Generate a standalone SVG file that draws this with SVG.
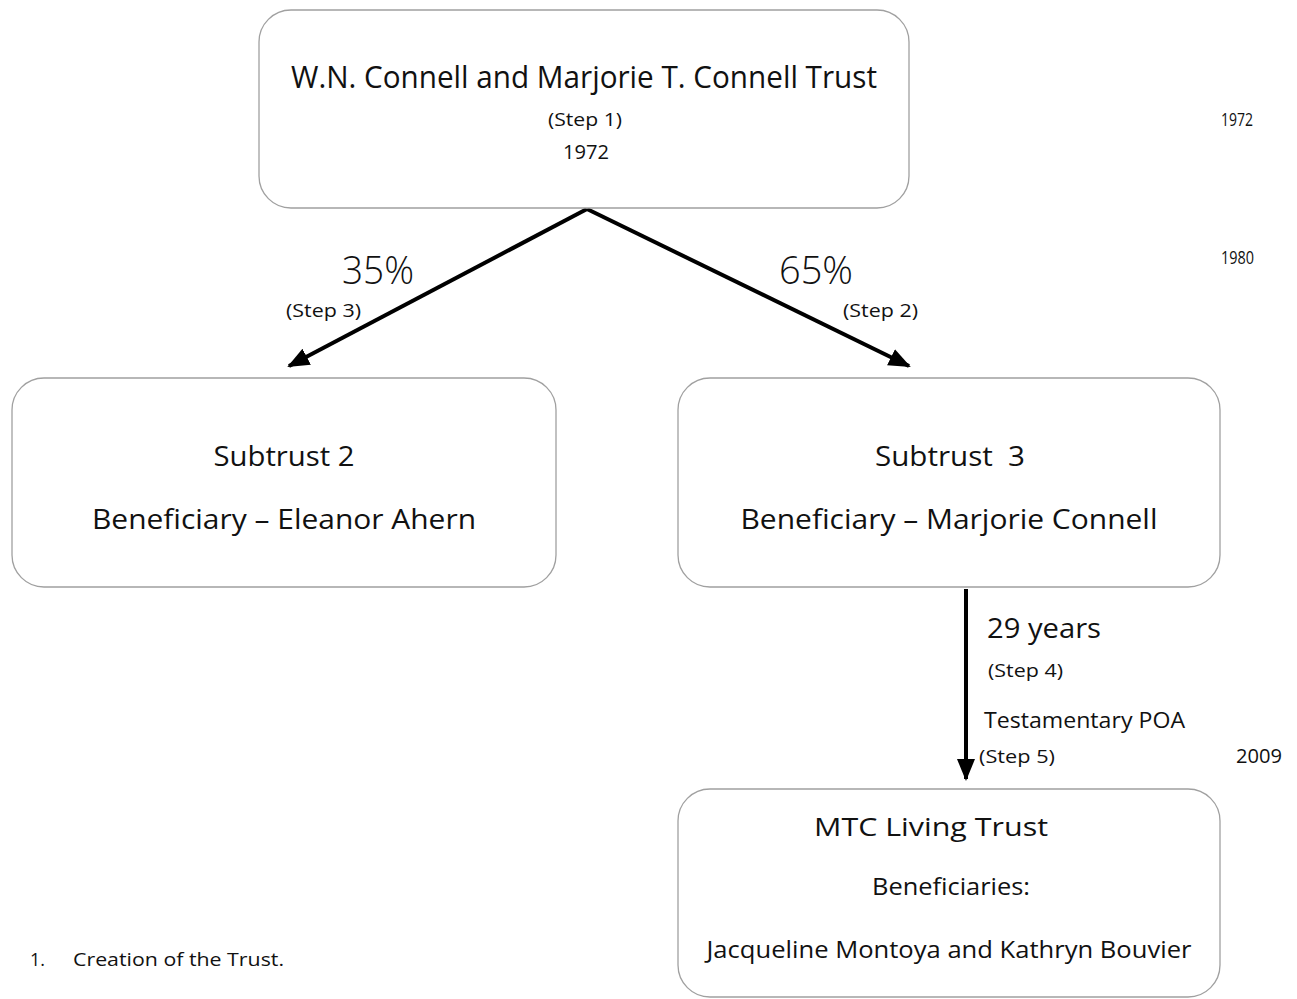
<svg xmlns="http://www.w3.org/2000/svg" width="1297" height="999" viewBox="0 0 1297 999">
<style>
.box{fill:#fff;stroke:#a0a0a0;stroke-width:1.3}
text{font-family:"Open Sans","Liberation Sans",sans-serif;fill:#111}
.c{text-anchor:middle}
.con{stroke:#000;stroke-width:4;fill:none}
</style>
<defs>
<marker id="ah" markerUnits="userSpaceOnUse" markerWidth="22" markerHeight="18" refX="20" refY="9" orient="auto">
<path d="M0,0 L22,9 L0,18 Z" fill="#000"/>
</marker>
</defs>
<rect width="1297" height="999" fill="#fff"/>
<g id="connectors">
<line class="con" x1="587" y1="209" x2="289" y2="366" marker-end="url(#ah)"/>
<line class="con" x1="587" y1="209" x2="909" y2="366" marker-end="url(#ah)"/>
<line class="con" x1="966" y1="589" x2="966" y2="779" marker-end="url(#ah)"/>
</g>
<g id="node-trust">
<rect class="box" x="259" y="10" width="650" height="198" rx="32"/>
<text class="c" x="584" y="88" font-size="31" textLength="586" lengthAdjust="spacingAndGlyphs">W.N. Connell and Marjorie T. Connell Trust</text>
<text class="c" x="585" y="126" font-size="18" textLength="74" lengthAdjust="spacingAndGlyphs">(Step 1)</text>
<text class="c" x="586" y="159" font-size="20" textLength="46" lengthAdjust="spacingAndGlyphs">1972</text>
</g>
<g id="node-subtrust2">
<rect class="box" x="12" y="378" width="544" height="209" rx="32"/>
<text class="c" x="284" y="466" font-size="28" textLength="141" lengthAdjust="spacingAndGlyphs">Subtrust 2</text>
<text class="c" x="284" y="529" font-size="28" textLength="384" lengthAdjust="spacingAndGlyphs">Beneficiary – Eleanor Ahern</text>
</g>
<g id="node-subtrust3">
<rect class="box" x="678" y="378" width="542" height="209" rx="32"/>
<text class="c" x="950" y="466" font-size="28" textLength="150" lengthAdjust="spacingAndGlyphs" xml:space="preserve">Subtrust  3</text>
<text class="c" x="949" y="529" font-size="28" textLength="417" lengthAdjust="spacingAndGlyphs">Beneficiary – Marjorie Connell</text>
</g>
<g id="node-mtc">
<rect class="box" x="678" y="789" width="542" height="208" rx="32"/>
<text class="c" x="931" y="836" font-size="26" textLength="234" lengthAdjust="spacingAndGlyphs">MTC Living Trust</text>
<text class="c" x="951" y="895" font-size="24" textLength="158" lengthAdjust="spacingAndGlyphs">Beneficiaries:</text>
<text class="c" x="949" y="958" font-size="24" textLength="485" lengthAdjust="spacingAndGlyphs">Jacqueline Montoya and Kathryn Bouvier</text>
</g>
<g id="labels">
<text x="342" y="284" font-size="38" font-weight="300" textLength="72" lengthAdjust="spacingAndGlyphs">35%</text>
<text x="286" y="317" font-size="18" textLength="75" lengthAdjust="spacingAndGlyphs">(Step 3)</text>
<text x="779" y="284" font-size="38" font-weight="300" textLength="74" lengthAdjust="spacingAndGlyphs">65%</text>
<text x="843" y="317" font-size="18" textLength="75" lengthAdjust="spacingAndGlyphs">(Step 2)</text>
<text x="987" y="638" font-size="28" textLength="114" lengthAdjust="spacingAndGlyphs">29 years</text>
<text x="988" y="677" font-size="18" textLength="75" lengthAdjust="spacingAndGlyphs">(Step 4)</text>
<text x="984" y="728" font-size="21" textLength="201" lengthAdjust="spacingAndGlyphs">Testamentary POA</text>
<text x="979" y="763" font-size="19" textLength="76" lengthAdjust="spacingAndGlyphs">(Step 5)</text>
<text x="1221" y="126" font-size="19" textLength="32" lengthAdjust="spacingAndGlyphs">1972</text>
<text x="1221" y="264" font-size="19" textLength="33" lengthAdjust="spacingAndGlyphs">1980</text>
<text x="1236" y="763" font-size="20" textLength="46" lengthAdjust="spacingAndGlyphs">2009</text>
<text x="30" y="966" font-size="18" textLength="15" lengthAdjust="spacingAndGlyphs">1.</text>
<text x="73" y="966" font-size="18" textLength="211" lengthAdjust="spacingAndGlyphs">Creation of the Trust.</text>
</g>
</svg>
